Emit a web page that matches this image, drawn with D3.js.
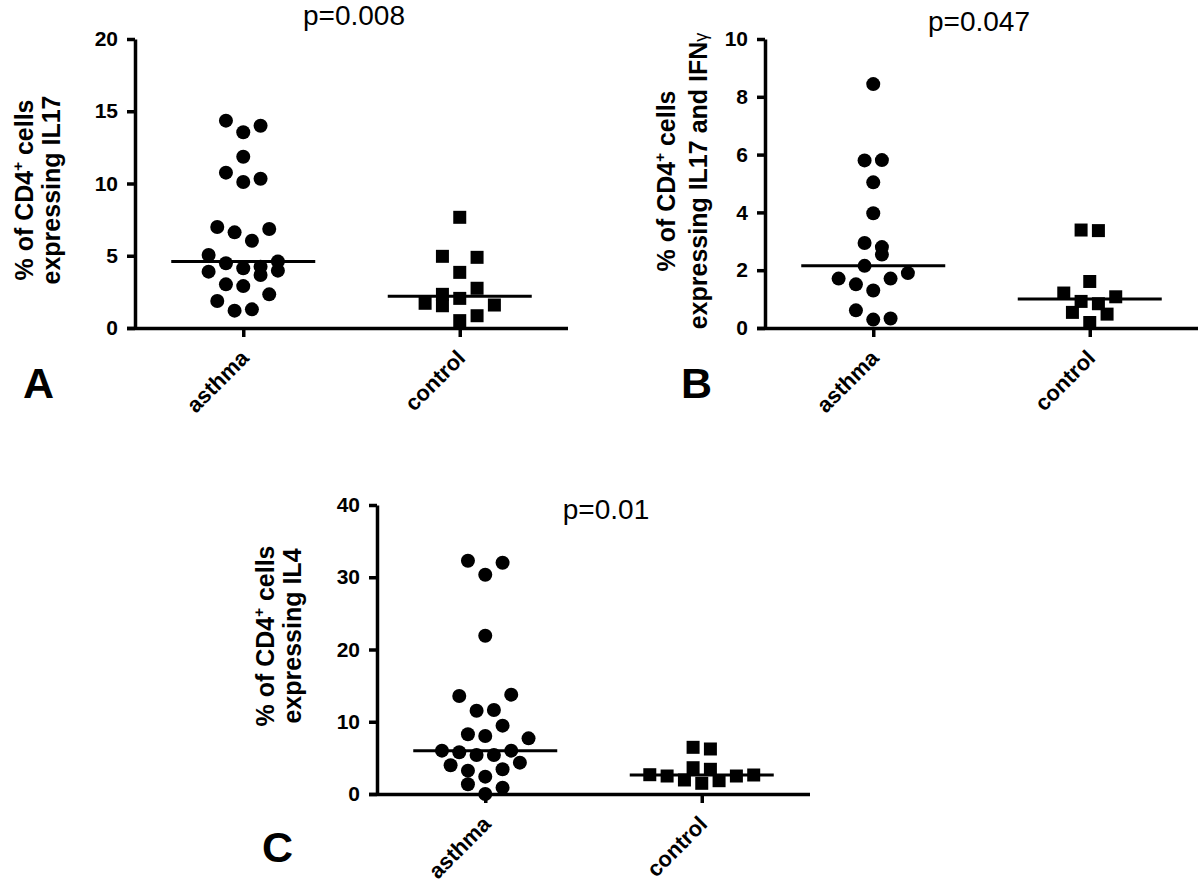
<!DOCTYPE html>
<html><head><meta charset="utf-8">
<script src="https://cdn.jsdelivr.net/npm/d3@7"></script>
<style>body{margin:0;background:#fff}svg{display:block}</style>
</head><body>
<svg id="chart" width="1200" height="883"></svg>
<script>
// ---------- data ----------
const categories = ["asthma", "control"];

// Panel A: % of CD4+ cells expressing IL17
const il17Asthma     = [14.35,13.55,14.0,11.85,10.75,10.1,10.33,6.99,6.62,6.85,6.04,5.05,4.48,4.13,4.24,4.6,3.9,3.67,3.97,3.02,2.9,1.87,2.33,1.2,1.29];
const il17AsthmaSlot = [-2,0,2,0,-2,0,2,-3,-1,3,1,-4,-2,0,2,4,-4,2,4,-2,0,-3,3,-1,1];
const il17Control     = [7.66,4.96,4.89,3.85,2.33,1.54,2.75,2.05,1.71,1.59,0.51,0.85];
const il17ControlSlot = [0,-2,2,0,-2,-2,2,0,-4,4,0,2];
const ticksA = [0,5,10,15,20];

// Panel B: % of CD4+ cells expressing IL17 and IFNγ
const dualAsthma     = [8.44,5.8,5.81,5.04,3.97,2.94,2.8,2.54,2.15,1.71,1.51,1.3,1.71,1.9,0.61,0.29,0.33];
const dualAsthmaSlot = [0,-1,1,0,0,-1,1,1,-1,-4,-2,0,2,4,-2,0,2];
const dualControl     = [3.39,3.37,1.61,1.21,0.92,0.84,1.08,0.54,0.48,0.19];
const dualControlSlot = [-1,1,0,-3,-1,1,3,-2,2,0];
const ticksB = [0,2,4,6,8,10];

// Panel C: % of CD4+ cells expressing IL4
const il4Asthma     = [32.29,32.0,30.35,21.9,13.56,13.75,11.53,11.63,9.46,8.26,8.03,7.7,6.0,5.77,5.4,5.4,6.0,3.97,4.34,3.23,3.42,2.4,1.34,0.88,0.0];
const il4AsthmaSlot = [-2,2,0,0,-3,3,-1,1,2,-2,0,5,-5,-3,-1,1,3,-4,4,-2,2,0,-2,2,0];
const il4Control     = [6.46,6.23,3.64,3.42,2.67,2.49,1.94,1.48,1.84,2.49,2.63];
const il4ControlSlot = [-1,1,-1,1,-6,-4,-2,0,2,4,6];
const ticksC = [0,10,20,30,40];

const pValues = ["p=0.008", "p=0.047", "p=0.01"];
const panelLetters = ["A", "B", "C"];
const labelLine2 = ["expressing IL17", "expressing IL17 and IFN", "expressing IL4"];

// ---------- layout ----------
const FONT = "'Liberation Sans', Arial, Helvetica, sans-serif";
const svg = d3.select("#chart");

const panels = [
  {ax:135, top:39,  bottom:328, ticks:ticksA, asthma:il17Asthma, aSlot:il17AsthmaSlot, control:il17Control, cSlot:il17ControlSlot,
   p:pValues[0], px:354, py:25, letter:panelLetters[0], lx:23, ly:398, l1:33, l2:60, lcy:190, line2:labelLine2[0], gamma:false},
  {ax:765, top:39,  bottom:328, ticks:ticksB, asthma:dualAsthma, aSlot:dualAsthmaSlot, control:dualControl, cSlot:dualControlSlot,
   p:pValues[1], px:979, py:31, letter:panelLetters[1], lx:681, ly:398, l1:675, l2:707, lcy:181, line2:labelLine2[1], gamma:true},
  {ax:377, top:505, bottom:794, ticks:ticksC, asthma:il4Asthma, aSlot:il4AsthmaSlot, control:il4Control, cSlot:il4ControlSlot,
   p:pValues[2], px:606, py:519, letter:panelLetters[2], lx:262, ly:862, l1:274, l2:301, lcy:636, line2:labelLine2[2], gamma:false}
];

panels.forEach(drawPanel);

function drawPanel(cfg){
  const g = svg.append("g");
  const y = d3.scaleLinear().domain([0, d3.max(cfg.ticks)]).range([cfg.bottom, cfg.top]);
  const x = d3.scalePoint().domain(categories).range([cfg.ax, cfg.ax + 433]).padding(0.5);
  const jit = d3.scaleLinear().domain([0, 1]).range([0, 8.66]);

  // points
  const asthmaPts = cfg.asthma.map((v,i)=>({v, s:cfg.aSlot[i]}));
  const controlPts = cfg.control.map((v,i)=>({v, s:cfg.cSlot[i]}));
  g.selectAll("circle.a").data(asthmaPts).join("circle")
    .attr("cx", d => x("asthma") + jit(d.s))
    .attr("cy", d => y(d.v))
    .attr("r", 7).attr("fill", "#000");
  const sq = d3.symbol().type(d3.symbolSquare).size(13*13);
  g.selectAll("path.c").data(controlPts).join("path")
    .attr("transform", d => `translate(${x("control") + jit(d.s)},${y(d.v)})`)
    .attr("d", sq).attr("fill", "#000");

  // medians
  const meds = [{c:"asthma", m:d3.median(cfg.asthma)}, {c:"control", m:d3.median(cfg.control)}];
  g.selectAll("line.med").data(meds).join("line")
    .attr("x1", d => x(d.c) - 72).attr("x2", d => x(d.c) + 72)
    .attr("y1", d => y(d.m)).attr("y2", d => y(d.m))
    .attr("stroke", "#000").attr("stroke-width", 3);

  // y axis
  const gy = g.append("g").attr("transform", `translate(${cfg.ax},0)`)
    .call(d3.axisLeft(y).tickValues(cfg.ticks).tickSize(8).tickSizeOuter(0).tickPadding(9));
  gy.select(".domain").attr("stroke-width", 3.5).attr("stroke", "#000");
  gy.selectAll(".tick line").attr("stroke-width", 3.5).attr("stroke", "#000");
  gy.selectAll(".tick text").attr("font-size", 21).attr("font-weight", "bold")
    .attr("font-family", FONT).attr("fill", "#000");

  // x axis
  const gx = g.append("g").attr("transform", `translate(0,${cfg.bottom})`)
    .call(d3.axisBottom(x).tickSize(9).tickSizeOuter(0));
  gx.select(".domain").remove();
  gx.append("line").attr("x1", cfg.ax - 8).attr("x2", cfg.ax + 433)
    .attr("y1", 0.5).attr("y2", 0.5).attr("stroke", "#000").attr("stroke-width", 3.5);
  gx.selectAll(".tick line").attr("stroke-width", 3.5).attr("stroke", "#000");
  gx.selectAll(".tick text").remove();
  gx.selectAll(".tick").append("text")
    .attr("transform", "translate(1,26) rotate(-45)")
    .attr("text-anchor", "end").attr("dy", "0.35em")
    .attr("font-size", 22).attr("font-weight", "bold").attr("font-family", FONT)
    .attr("fill", "#000")
    .text(d => d);

  // y label
  const t1 = g.append("text")
    .attr("transform", `translate(${cfg.l1},${cfg.lcy}) rotate(-90)`)
    .attr("text-anchor", "middle").attr("font-size", 25).attr("font-weight", "bold")
    .attr("font-family", FONT);
  t1.append("tspan").text("% of CD4");
  t1.append("tspan").attr("dy", -10).attr("font-size", 15).text("+");
  t1.append("tspan").attr("dy", 10).text(" cells");
  const t2 = g.append("text")
    .attr("transform", `translate(${cfg.l2},${cfg.lcy}) rotate(-90)`)
    .attr("text-anchor", "middle").attr("font-size", 25).attr("font-weight", "bold")
    .attr("font-family", FONT);
  t2.append("tspan").text(cfg.line2);
  if (cfg.gamma) t2.append("tspan").attr("font-size", 18).attr("font-weight", "normal").text("γ");

  // p value
  g.append("text").attr("x", cfg.px).attr("y", cfg.py).attr("text-anchor", "middle")
    .attr("font-size", 28).attr("font-family", FONT).attr("fill", "#000").text(cfg.p);

  // panel letter
  g.append("text").attr("x", cfg.lx).attr("y", cfg.ly)
    .attr("font-size", 43).attr("font-weight", "bold").attr("font-family", FONT)
    .attr("fill", "#000").text(cfg.letter);
}
</script>
</body></html>
